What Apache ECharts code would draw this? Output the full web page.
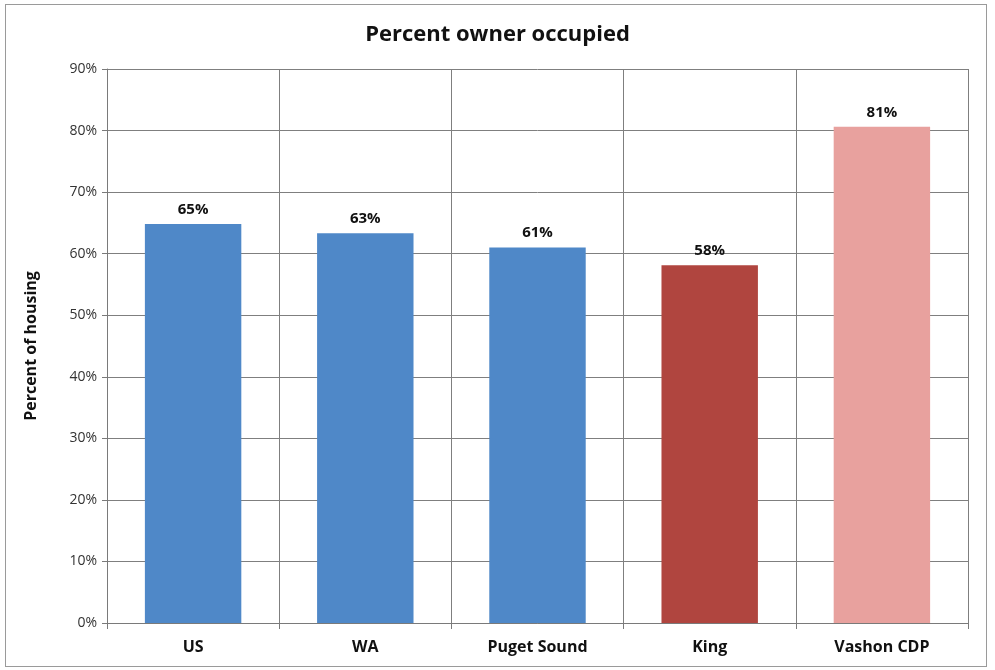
<!DOCTYPE html>
<html>
<head>
<meta charset="utf-8">
<script src="https://cdn.jsdelivr.net/npm/echarts@6/dist/echarts.min.js"></script>
<style>
  html, body { margin: 0; padding: 0; background: #fff; }
  #frame { position: absolute; left: 5px; top: 4px; width: 982px; height: 663px; border: 1px solid #9a9a9a; box-sizing: border-box; }
  #chart { position: absolute; left: 0; top: 0; width: 995px; height: 670px; }
</style>
</head>
<body>
<div id="frame"></div>
<div id="chart"></div>
<script>
// data
const categories = ['US', 'WA', 'Puget Sound', 'King', 'Vashon CDP'];
const values = [64.8, 63.3, 61.0, 58.1, 80.6];
const barColors = ['#4f88c8', '#4f88c8', '#4f88c8', '#b0453f', '#e8a19e'];
const yTicks = [0, 10, 20, 30, 40, 50, 60, 70, 80, 90];

const font = '"Open Sans", "DejaVu Sans", sans-serif';

const chart = echarts.init(document.getElementById('chart'));
chart.setOption({
  animation: false,
  textStyle: { fontFamily: font },
  title: {
    text: 'Percent owner occupied',
    left: 'center',
    top: 19,
    textStyle: { fontSize: 22, fontWeight: 'bold', color: '#111', fontFamily: font }
  },
  grid: { left: 107, right: 27, top: 69, bottom: 47 },
  xAxis: {
    type: 'category',
    data: categories,
    axisLine: { lineStyle: { color: '#7a7a7a' } },
    axisTick: { show: true, length: 6, lineStyle: { color: '#7a7a7a' } },
    axisLabel: { fontSize: 16, fontWeight: 'bold', color: '#111', margin: 16 },
    splitLine: { show: true, lineStyle: { color: '#7f7f7f', width: 1 } }
  },
  yAxis: {
    type: 'value',
    min: 0,
    max: yTicks[yTicks.length - 1],
    interval: 10,
    name: 'Percent of housing',
    nameLocation: 'middle',
    nameGap: 68,
    nameTextStyle: { fontSize: 16, fontWeight: 'bold', color: '#111' },
    axisLine: { show: true, lineStyle: { color: '#7a7a7a' } },
    axisTick: { show: true, length: 5, lineStyle: { color: '#7a7a7a' } },
    axisLabel: { fontSize: 14, color: '#333', formatter: '{value}%', margin: 10 },
    splitLine: { show: true, lineStyle: { color: '#7f7f7f', width: 1 } }
  },
  series: [{
    type: 'bar',
    data: values.map((v, i) => ({ value: v, itemStyle: { color: barColors[i] } })),
    barWidth: '56%',
    label: {
      show: true,
      position: 'top',
      distance: 7,
      fontSize: 15,
      fontWeight: 'bold',
      color: '#111',
      formatter: p => Math.round(p.value) + '%'
    }
  }]
});
</script>
</body>
</html>
